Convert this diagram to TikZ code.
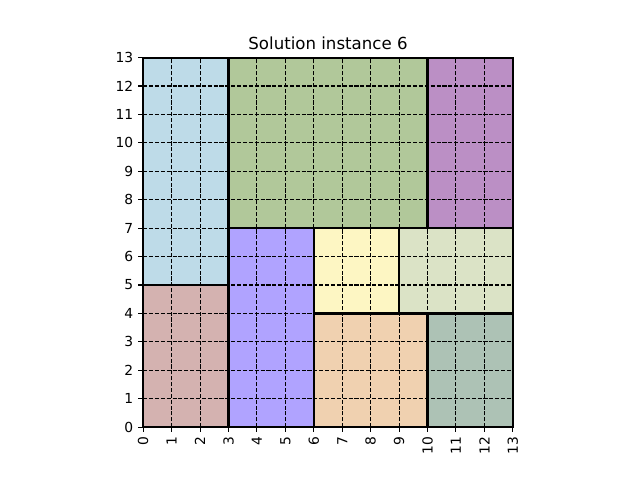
\documentclass[tikz,border=0pt]{standalone}
\usepackage{fontspec}
\setmainfont{DejaVu Sans}
\definecolor{cA}{HTML}{BEDBE8}
\definecolor{cB}{HTML}{B1C89A}
\definecolor{cC}{HTML}{BB8FC5}
\definecolor{cD}{HTML}{D4B2B0}
\definecolor{cE}{HTML}{B0A3FF}
\definecolor{cF}{HTML}{FDF6C3}
\definecolor{cG}{HTML}{DBE3C6}
\definecolor{cH}{HTML}{F0D1B0}
\definecolor{cI}{HTML}{ADC2B5}
\begin{document}
\begin{tikzpicture}[x=0.284308in,y=0.284308in,
  cell/.style={draw=black,line width=1.5pt},
  gridline/.style={black,line width=0.8pt,dash pattern=on 2.96pt off 1.28pt},
  spine/.style={black,line width=0.8pt},
  ticklab/.style={font=\fontsize{10}{12}\selectfont,inner sep=0pt}]
\useasboundingbox (-1.432in,-0.528in) rectangle ++(6.4in,4.8in);
% rectangles
\filldraw[cell,fill=cA] (0,5) rectangle (3,13);
\filldraw[cell,fill=cB] (3,7) rectangle (10,13);
\filldraw[cell,fill=cC] (10,7) rectangle (13,13);
\filldraw[cell,fill=cD] (0,0) rectangle (3,5);
\filldraw[cell,fill=cE] (3,0) rectangle (6,7);
\filldraw[cell,fill=cF] (6,4) rectangle (9,7);
\filldraw[cell,fill=cG] (9,4) rectangle (13,7);
\filldraw[cell,fill=cH] (6,0) rectangle (10,4);
\filldraw[cell,fill=cI] (10,0) rectangle (13,4);
% grid
\foreach \i in {1,...,12} {
  \draw[gridline] (\i,0) -- (\i,13);
  \draw[gridline] (0,\i) -- (13,\i);
}
% spines
\draw[spine] (0,0) rectangle (13,13);
% ticks and labels
\foreach \i in {0,...,13} {
  \draw[spine] (\i,0) -- ++(0,-3.5pt);
  \draw[spine] (0,\i) -- ++(-3.5pt,0);
  \node[ticklab,rotate=90,anchor=east] (xl\i) at ([yshift=-7pt]\i,0) {\i};
  \node[ticklab,anchor=east] (yl\i) at ([xshift=-7pt]0,\i) {\i};
}
% title
\node[font=\fontsize{12}{14}\selectfont,inner sep=0pt,anchor=base] (title) at ([yshift=6pt]6.5,13) {Solution instance 6};
\end{tikzpicture}
\end{document}
